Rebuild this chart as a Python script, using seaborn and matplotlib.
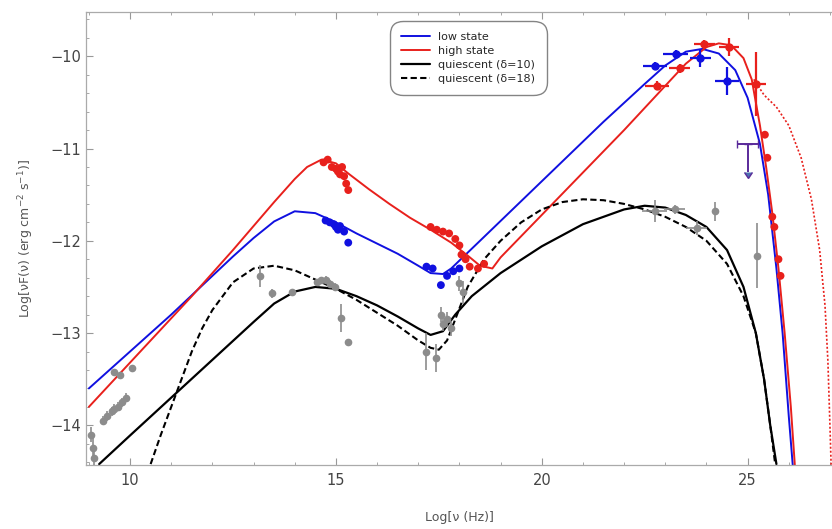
import numpy as np
import pandas as pd
import matplotlib
matplotlib.use("Agg")
import matplotlib.pyplot as plt
from matplotlib.ticker import MultipleLocator
import seaborn as sns

# ---------------- model curves ----------------
blue_x = [9.0, 9.5, 10, 10.5, 11, 11.5, 12, 12.5, 13, 13.5, 14, 14.5, 15, 15.5, 16, 16.5, 17, 17.3, 17.6, 17.8,
          18.5, 19.5, 20.5, 21.5, 22.5, 23.0, 23.5, 23.9, 24.3, 24.7, 25.0, 25.3, 25.5, 25.7, 25.85, 26.0, 26.1]
blue_y = [-13.6, -13.4, -13.2, -13.0, -12.8, -12.59, -12.38, -12.17, -11.97, -11.79, -11.68, -11.7, -11.8,
          -11.92, -12.03, -12.14, -12.27, -12.35, -12.36, -12.3, -12.0, -11.57, -11.14, -10.71, -10.3, -10.1,
          -9.95, -9.92, -9.97, -10.15, -10.45, -10.95, -11.5, -12.3, -13.0, -13.9, -14.45]

red_x = [9.0, 9.5, 10, 10.5, 11, 11.5, 12, 12.5, 13, 13.5, 14, 14.3, 14.65, 15.0, 15.3, 15.8, 16.3, 16.8, 17.3,
         17.8, 18.2, 18.5, 18.8, 19.0, 20, 21, 22, 22.5, 23.0, 23.5, 24.0, 24.3, 24.6, 24.9, 25.1, 25.3, 25.45,
         25.6, 25.75, 25.9, 26.05, 26.15]
red_y = [-13.8, -13.56, -13.32, -13.08, -12.84, -12.6, -12.35, -12.1, -11.84, -11.58, -11.33, -11.2, -11.12,
         -11.16, -11.27, -11.44, -11.6, -11.75, -11.88, -12.02, -12.16, -12.27, -12.3, -12.18, -11.72, -11.26,
         -10.8, -10.56, -10.32, -10.08, -9.9, -9.86, -9.88, -10.02, -10.25, -10.75, -11.2, -11.7, -12.3, -13.0,
         -13.8, -14.45]

red_dot_x = [25.15, 25.4, 25.7, 26.0, 26.3, 26.55, 26.75, 26.88, 26.95, 27.0, 27.03]
red_dot_y = [-10.25, -10.42, -10.55, -10.75, -11.1, -11.55, -12.1, -12.7, -13.3, -14.0, -14.45]

q10_x = [9.25, 10, 11, 12, 13, 13.5, 14, 14.5, 15, 15.5, 16, 16.5, 17, 17.3, 17.6, 17.9, 18.3, 19, 20, 21, 22,
         22.5, 23, 23.5, 24, 24.5, 24.9, 25.2, 25.4, 25.55, 25.7]
q10_y = [-14.42, -14.11, -13.7, -13.29, -12.88, -12.68, -12.55, -12.5, -12.52, -12.6, -12.7, -12.82, -12.95,
         -13.02, -12.98, -12.8, -12.6, -12.35, -12.06, -11.82, -11.66, -11.62, -11.64, -11.72, -11.85, -12.1,
         -12.5, -13.0, -13.5, -14.0, -14.42]

q18_x = [10.5, 10.75, 11, 11.25, 11.5, 11.75, 12, 12.5, 13, 13.5, 14, 14.5, 15, 15.5, 16, 16.5, 17, 17.3, 17.5,
         17.7, 17.9, 18.2, 18.6, 19, 19.5, 20, 20.5, 21, 21.5, 22, 22.5, 23, 23.5, 24, 24.5, 24.9, 25.2, 25.4,
         25.55, 25.67]
q18_y = [-14.42, -14.1, -13.8, -13.5, -13.2, -12.95, -12.75, -12.45, -12.3, -12.27, -12.32, -12.42, -12.52,
         -12.64, -12.78, -12.92, -13.08, -13.16, -13.18, -13.08, -12.85, -12.5, -12.2, -12.0, -11.8, -11.66,
         -11.58, -11.55, -11.56, -11.6, -11.66, -11.74, -11.85, -12.0, -12.25, -12.6, -13.0, -13.5, -14.0, -14.42]

# ---------------- data points ----------------
blue_pt_x = [14.75, 14.85, 14.95, 15.0, 15.05, 15.1, 15.2, 15.3, 17.2, 17.35, 17.55, 17.7, 17.85, 18.0]
blue_pt_y = [-11.78, -11.8, -11.82, -11.85, -11.88, -11.84, -11.9, -12.02, -12.28, -12.3, -12.48, -12.38,
             -12.33, -12.3]
blue_g_x = [22.75, 23.25, 23.85, 24.5]
blue_g_y = [-10.1, -9.97, -10.02, -10.27]
blue_g_xerr = [0.3, 0.3, 0.25, 0.3]
blue_g_yerr = [0.04, 0.04, 0.1, 0.15]
blue_ul_x = [25.0]
blue_ul_y = [-10.95]

red_pt_x = [14.7, 14.8, 14.9, 15.0, 15.05, 15.1, 15.15, 15.2, 15.25, 15.3, 17.3, 17.45, 17.6, 17.75, 17.9,
            18.0, 18.05, 18.15, 18.25, 18.45, 18.6, 25.42, 25.48, 25.6, 25.65, 25.75, 25.8]
red_pt_y = [-11.15, -11.12, -11.2, -11.22, -11.25, -11.28, -11.2, -11.3, -11.38, -11.45, -11.85, -11.88, -11.9,
            -11.92, -11.98, -12.05, -12.15, -12.2, -12.28, -12.3, -12.25, -10.85, -11.1, -11.74, -11.85, -12.2,
            -12.38]
red_g_x = [22.8, 23.35, 23.95, 24.55, 25.2]
red_g_y = [-10.32, -10.13, -9.87, -9.9, -10.3]
red_g_xerr = [0.3, 0.25, 0.25, 0.25, 0.25]
red_g_yerr = [0.05, 0.05, 0.05, 0.1, 0.35]

gray_x = [9.05, 9.1, 9.12, 9.35, 9.45, 9.55, 9.6, 9.7, 9.8, 9.9, 9.6, 9.75, 10.05, 13.15, 13.44, 13.93, 14.55,
          14.65, 14.75, 14.85, 14.97, 15.13, 15.3, 17.2, 17.43, 17.55, 17.6, 17.7, 17.8, 17.98, 18.08,
          22.74, 23.23, 23.76, 24.22, 25.23]
gray_y = [-14.1, -14.25, -14.35, -13.95, -13.9, -13.85, -13.82, -13.8, -13.75, -13.7, -13.42, -13.45, -13.38,
          -12.38, -12.57, -12.56, -12.45, -12.43, -12.42, -12.47, -12.5, -12.84, -13.1, -13.2, -13.27, -12.8,
          -12.9, -12.85, -12.95, -12.46, -12.56, -11.68, -11.66, -11.86, -11.68, -12.16]
gray_xerr = [0, 0, 0, 0, 0, 0, 0, 0, 0, 0, 0, 0, 0, 0, 0, 0, 0, 0, 0, 0, 0, 0, 0, 0, 0, 0, 0, 0, 0, 0, 0,
             0.3, 0.25, 0.25, 0, 0]
gray_yerr = [0.08, 0.12, 0.1, 0.05, 0.05, 0.05, 0.05, 0.05, 0.05, 0.05, 0.03, 0.03, 0.03, 0.12, 0.05, 0.04,
             0.04, 0.04, 0.04, 0.04, 0.04, 0.15, 0.04, 0.2, 0.15, 0.08, 0.08, 0.08, 0.08, 0.08, 0.12,
             0.12, 0.05, 0.08, 0.1, 0.35]

legend_labels = ["low state", "high state", "quiescent (δ=10)", "quiescent (δ=18)"]
x_label = "Log[ν (Hz)]"
y_label = "Log[νF(ν) (erg cm$^{-2}$ s$^{-1}$)]"

# ---------------- plotting ----------------
sns.set_theme(style="white")
plt.rcParams["font.family"] = ["DejaVu Sans"]

fig = plt.figure(figsize=(8.32, 5.29), dpi=100)
ax = fig.add_axes([86 / 832, 64 / 529, 1 - 86 / 832, 453 / 529])

BLUE = "#1010e0"
RED = "#e8201c"
GRAY = "#8c8c8c"

def curve(x, y, **kw):
    df = pd.DataFrame({"x": x, "y": y})
    sns.lineplot(data=df, x="x", y="y", sort=False, estimator=None, ax=ax, **kw)

curve(blue_x, blue_y, color=BLUE, lw=1.4, label=legend_labels[0])
curve(red_x, red_y, color=RED, lw=1.4, label=legend_labels[1])
curve(q10_x, q10_y, color="black", lw=1.6, label=legend_labels[2])
curve(q18_x, q18_y, color="black", lw=1.5, dashes=(3, 1.6), label=legend_labels[3])
curve(red_dot_x, red_dot_y, color=RED, lw=1.2, dashes=(1.2, 1.2), legend=False)

# data points
ax.errorbar(gray_x, gray_y, xerr=gray_xerr, yerr=gray_yerr, fmt="o", ms=4.5, color=GRAY, ecolor=GRAY,
            elinewidth=1.2, capsize=0, zorder=3)
sns.scatterplot(x=blue_pt_x, y=blue_pt_y, color=BLUE, s=32, edgecolor="none", ax=ax, zorder=4)
ax.errorbar(blue_g_x, blue_g_y, xerr=blue_g_xerr, yerr=blue_g_yerr, fmt="o", ms=5, color=BLUE,
            elinewidth=1.6, capsize=0, zorder=4)
ax.errorbar(blue_ul_x, blue_ul_y, xerr=[0.25], yerr=[0.3], uplims=True, fmt="none", ecolor="#5a2a9a",
            elinewidth=1.4, capsize=3, zorder=4)
sns.scatterplot(x=red_pt_x, y=red_pt_y, color=RED, s=32, edgecolor="none", ax=ax, zorder=4)
ax.errorbar(red_g_x, red_g_y, xerr=red_g_xerr, yerr=red_g_yerr, fmt="o", ms=5, color=RED,
            elinewidth=1.6, capsize=0, zorder=4)

ax.set_xlim(8.93, 27.05)
ax.set_ylim(-14.43, -9.52)
ax.xaxis.set_major_locator(MultipleLocator(5))
ax.xaxis.set_minor_locator(MultipleLocator(1))
ax.yaxis.set_major_locator(MultipleLocator(1))
ax.yaxis.set_minor_locator(MultipleLocator(0.2))
ax.tick_params(which="both", direction="in", top=True, bottom=True, left=True, right=False,
               colors="#999999", labelcolor="#444444", labelsize=10.5)
ax.tick_params(which="major", length=5, width=0.8)
ax.tick_params(which="minor", length=2.5, width=0.6)
ax.tick_params(axis="x", pad=6)
ax.set_xticks([10, 15, 20, 25])
ax.set_xticklabels(["10", "15", "20", "25"])
ax.set_yticks([-14, -13, -12, -11, -10])
ax.set_yticklabels(["−14", "−13", "−12", "−11", "−10"])
for s in ["left", "bottom", "top"]:
    ax.spines[s].set_color("#aaaaaa")
    ax.spines[s].set_linewidth(0.9)
ax.spines["right"].set_visible(False)

ax.set_xlabel(x_label, fontsize=9, color="#555555", labelpad=16)
ax.set_ylabel(y_label, fontsize=9, color="#555555", labelpad=10)

leg = ax.legend(loc="upper left", bbox_to_anchor=(0.404, 0.985), fontsize=8, frameon=True,
                fancybox=True, handlelength=2.6, borderpad=0.7, labelspacing=0.35, handletextpad=0.8)
leg.get_frame().set_edgecolor("#666666")
leg.get_frame().set_linewidth(1.0)
leg.get_frame().set_boxstyle("round", pad=0.3, rounding_size=1.2)

fig.savefig("out.png", dpi=100)
